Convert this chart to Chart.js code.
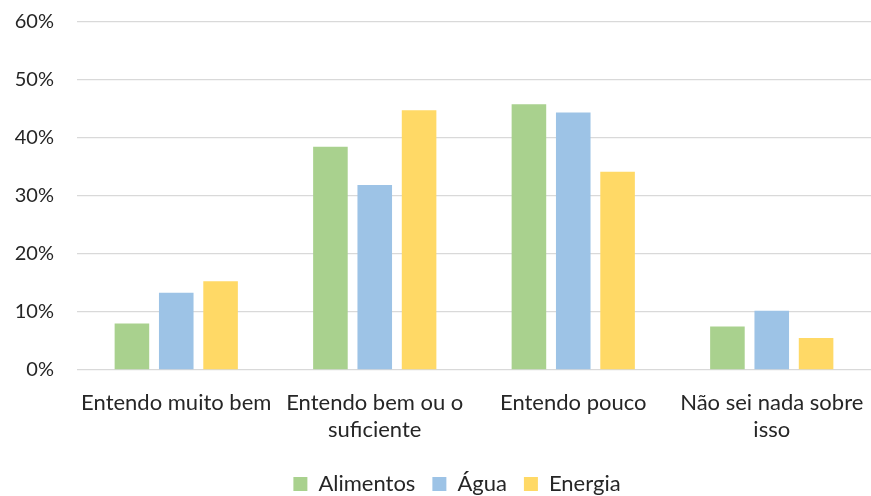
<!DOCTYPE html>
<html>
<head>
<meta charset="utf-8">
<script src="https://cdn.jsdelivr.net/npm/chart.js@4/dist/chart.umd.min.js"></script>
<style>
  html, body { margin: 0; padding: 0; background: #fff; }
  #wrap { width: 871px; height: 496px; }
</style>
</head>
<body>
<div id="wrap"><canvas id="c"></canvas></div>
<script>
// Survey answers: how well people understand each topic (% of respondents)
const categories = [
  "Entendo muito bem",
  ["Entendo bem ou o", "suficiente"],
  "Entendo pouco",
  ["Não sei nada sobre", "isso"]
];
const alimentos = [8.0, 38.5, 45.8, 7.5];
const agua = [13.3, 31.9, 44.4, 10.2];
const energia = [15.3, 44.8, 34.2, 5.5];
const yTicks = [0, 10, 20, 30, 40, 50, 60];

const FONT = "Lato, 'Open Sans', sans-serif";
const TEXT = '#262626';

// nudges the legend row sideways so it sits a little right of centre
const legendShift = {
  id: 'legendShift',
  afterLayout(chart) {
    const lg = chart.legend;
    if (lg) { lg.left += 20; lg.right += 20; }
  }
};

new Chart(document.getElementById('c'), {
  type: 'bar',
  data: {
    labels: categories,
    datasets: [
      { label: 'Alimentos', data: alimentos, backgroundColor: '#A9D18E' },
      { label: 'Água', data: agua, backgroundColor: '#9DC3E6' },
      { label: 'Energia', data: energia, backgroundColor: '#FFD966' }
    ]
  },
  plugins: [legendShift],
  options: {
    responsive: true,
    maintainAspectRatio: false,
    animation: false,
    datasets: { bar: { categoryPercentage: 0.67, barPercentage: 0.78 } },
    layout: { padding: { top: 22, right: -3, left: 0, bottom: -9 } },
    plugins: {
      legend: {
        position: 'bottom',
        labels: {
          boxWidth: 14, boxHeight: 14, padding: 17,
          color: TEXT,
          font: { family: FONT, size: 22 }
        }
      },
      tooltip: { enabled: false }
    },
    scales: {
      x: {
        grid: { display: false },
        border: { display: false },
        afterFit: s => { s.height = 86; s.paddingLeft = 0; s.paddingRight = 0; },
        ticks: {
          color: TEXT, maxRotation: 0, autoSkip: false, padding: 11,
          font: { family: FONT, size: 22, lineHeight: 1.25 }
        }
      },
      y: {
        min: 0, max: 60,
        afterBuildTicks: s => { s.ticks = yTicks.map(v => ({ value: v })); },
        afterFit: s => { s.width = 77; s.paddingTop = 0; s.paddingBottom = 0; },
        grid: { color: '#d9d9d9', lineWidth: 1.3, drawTicks: false },
        border: { display: false },
        ticks: {
          color: TEXT, padding: 23,
          font: { family: FONT, size: 20 },
          callback: v => v + '%'
        }
      }
    }
  }
});
</script>
</body>
</html>
